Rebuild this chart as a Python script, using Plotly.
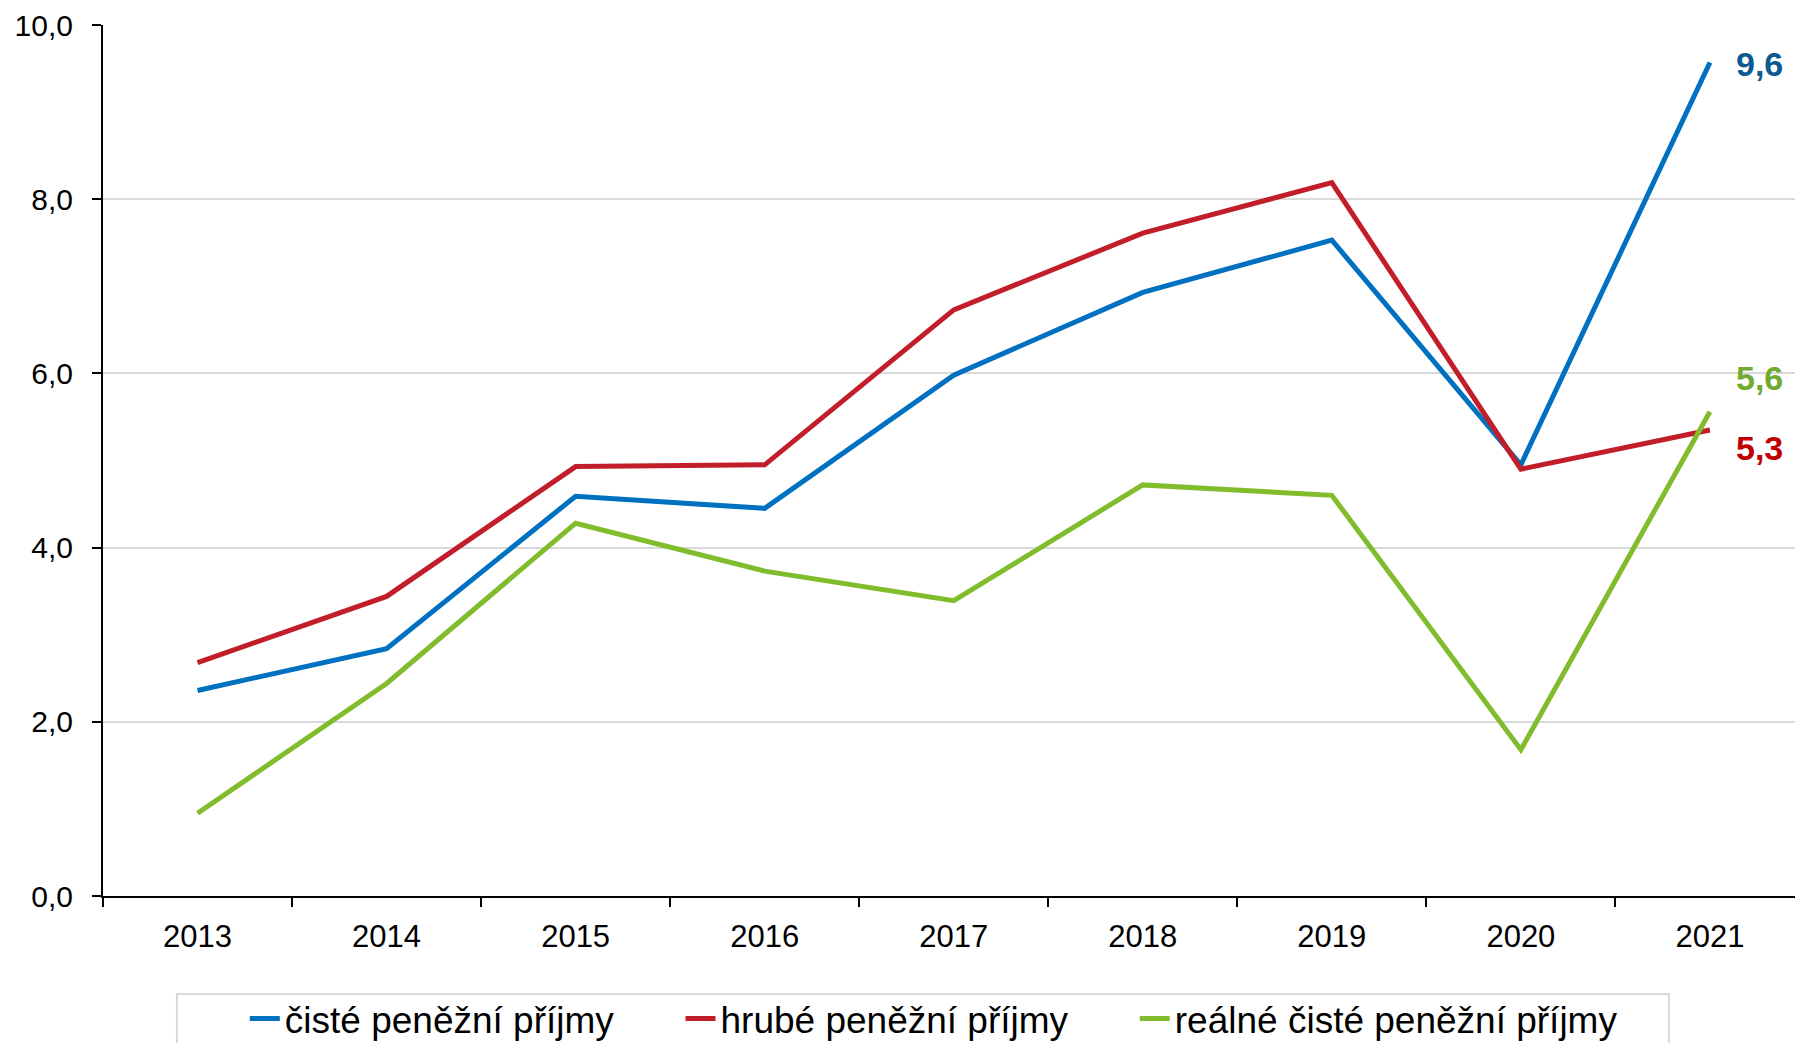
import plotly.graph_objects as go

years = ["2013", "2014", "2015", "2016", "2017", "2018", "2019", "2020", "2021"]
ciste = [2.36, 2.84, 4.59, 4.45, 5.98, 6.93, 7.53, 4.95, 9.57]
hrube = [2.68, 3.44, 4.93, 4.95, 6.73, 7.61, 8.19, 4.90, 5.35]
realne = [0.95, 2.44, 4.28, 3.73, 3.39, 4.72, 4.60, 1.68, 5.56]

NB = "\u00a0"
names = ["čisté peněžní příjmy", "hrubé peněžní příjmy", "reálné čisté peněžní příjmy"]
name_pad = [6, 6, 0]
line_colors = ["#0070C0", "#C21E2A", "#80BC2C"]
label_colors = ["#0B5A94", "#C00000", "#72A92F"]
end_labels = ["9,6", "5,3", "5,6"]
label_y = [9.55, 5.14, 5.95]

fig = go.Figure()
for nm, pad, vals, col in zip(names, name_pad, [ciste, hrube, realne], line_colors):
    fig.add_trace(go.Scatter(x=years, y=vals, mode="lines", name=nm + NB * pad,
                             line=dict(color=col, width=5)))

for txt, yv, col in zip(end_labels, label_y, label_colors):
    fig.add_annotation(x=8.26, y=yv, xref="x", yref="y", text="<b>%s</b>" % txt,
                       showarrow=False, font=dict(size=34, color=col,
                       family="Liberation Sans, Arial"), xanchor="center", yanchor="middle")

# legend frame
fig.add_shape(type="rect", xref="paper", yref="paper", x0=0.0437, x1=0.9255,
              y0=-0.1125, y1=-0.25, line=dict(color="#D9D9D9", width=2),
              fillcolor="rgba(0,0,0,0)", layer="below")

fig.update_layout(
    width=1795, height=1043,
    margin=dict(l=103, r=0, t=25, b=147, autoexpand=False),
    paper_bgcolor="white", plot_bgcolor="white",
    separators=", ",
    font=dict(family="Liberation Sans, Arial", color="black"),
    showlegend=True,
    legend=dict(orientation="h", x=0.0838, xanchor="left", y=-0.1056, yanchor="top",
                font=dict(size=37, color="black"), borderwidth=0,
                bgcolor="rgba(0,0,0,0)", itemwidth=30, tracegroupgap=0),
)
fig.update_xaxes(type="category", range=[-0.5, 8.45], tickson="boundaries",
                 ticks="outside", ticklen=9, tickwidth=1.5, tickcolor="black",
                 showline=True, linecolor="black", linewidth=2, showgrid=False,
                 tickfont=dict(size=31), ticklabelstandoff=12, automargin=False)
fig.update_yaxes(range=[0, 10], dtick=2, tickformat=".1f", ticks="outside", ticklen=9,
                 tickwidth=1.5, tickcolor="black", showline=True, linecolor="black",
                 linewidth=2, showgrid=True, gridcolor="#D9D9D9", gridwidth=1.5,
                 zeroline=False, tickfont=dict(size=30), ticklabelstandoff=13,
                 automargin=False)

fig.write_html("out.html", config={"displayModeBar": False},
               post_script="document.body.style.margin='0';document.body.style.overflow='hidden';")
